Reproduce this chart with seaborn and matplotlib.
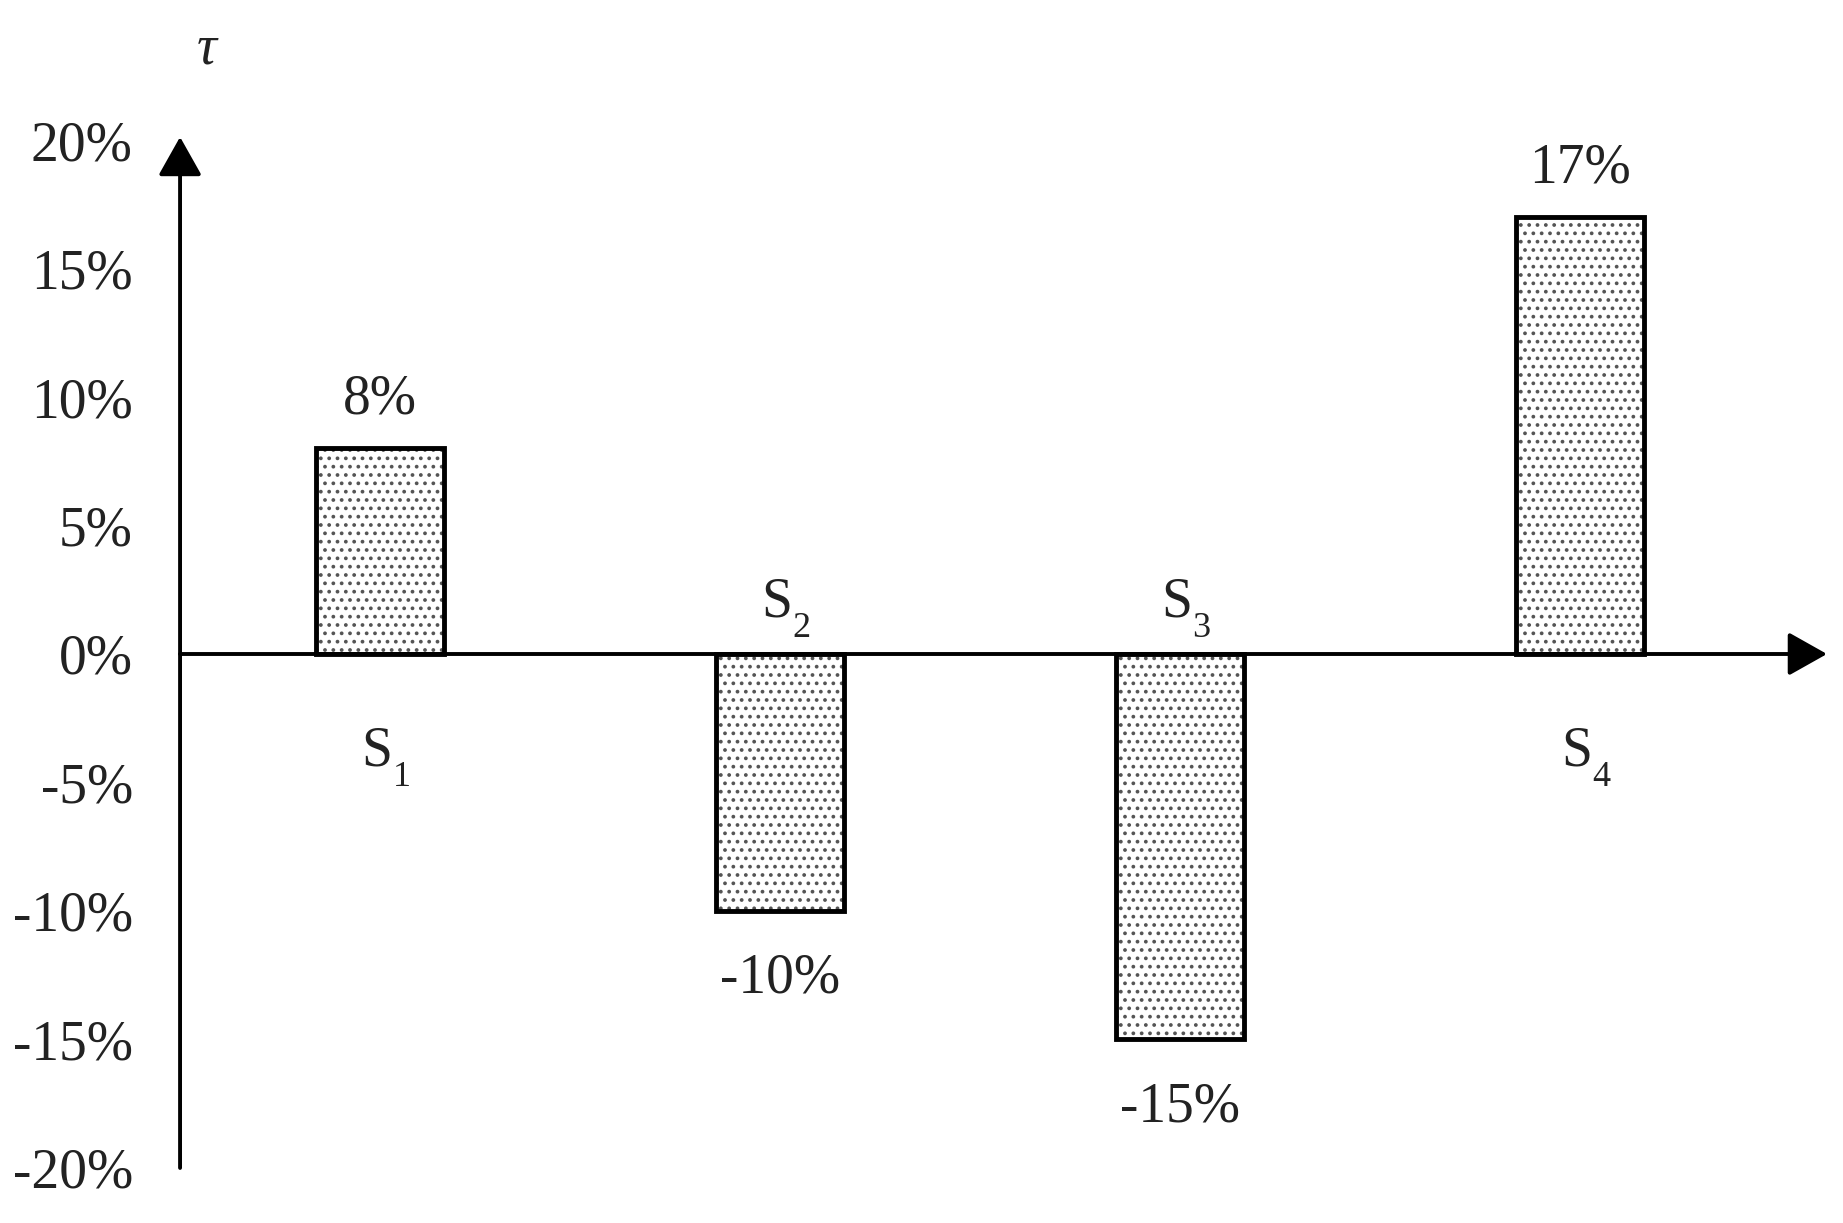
import matplotlib
matplotlib.use('Agg')
import matplotlib.pyplot as plt
import seaborn as sns
import pandas as pd
from matplotlib.colors import to_rgba

# data
categories = ['S1', 'S2', 'S3', 'S4']
cat_main = ['S', 'S', 'S', 'S']
cat_sub = ['1', '2', '3', '4']
values = [8, -10, -15, 17]
value_labels = ['8%', '-10%', '-15%', '17%']
yticks = [-20, -15, -10, -5, 0, 5, 10, 15, 20]
ytick_labels = ['-20%', '-15%', '-10%', '-5%', '0%', '5%', '10%', '15%', '20%']

df = pd.DataFrame({'cat': categories, 'val': values})

sns.set_style('white')
plt.rcParams['font.family'] = ['Liberation Serif', 'DejaVu Serif']
plt.rcParams['hatch.linewidth'] = 1.5

fig = plt.figure(figsize=(18.43, 12.23), dpi=100)
ax = fig.add_axes([0.0977, 0.045, 0.8936, 0.8405])

sns.barplot(data=df, x='cat', y='val', ax=ax, width=0.32, color='white',
            edgecolor='black', linewidth=3.5, hatch='..', saturation=1)

for p in ax.patches:
    if hasattr(p, 'set_hatchcolor'):
        p.set_hatchcolor('#555555')
    else:
        p._hatch_color = to_rgba('#555555')

ax.set_xlim(-0.5, 3.6175)
ax.set_ylim(-20, 20)
for s in ax.spines.values():
    s.set_visible(False)
ax.set_xticks([])
ax.set_yticks(yticks)
ax.set_yticklabels(ytick_labels, fontsize=40, color='#222222')
ax.tick_params(axis='y', length=0, pad=34)
ax.set_xlabel('')
ax.set_ylabel('')

# axes with arrows
arrow = dict(arrowstyle='-|>,head_length=0.48,head_width=0.27', lw=2.8,
             color='black', mutation_scale=50, shrinkA=0, shrinkB=0)
ax.annotate('', xy=(0, 1.003), xytext=(0, 0), xycoords='axes fraction',
            arrowprops=arrow, annotation_clip=False)
ax.annotate('', xy=(1, 0), xytext=(0, 0), xycoords=('axes fraction', 'data'),
            arrowprops=arrow, annotation_clip=False)

# labels
txt = dict(textcoords='offset points', va='baseline', color='#222222')
for i, (v, vl, cm, cs) in enumerate(zip(values, value_labels, cat_main, cat_sub)):
    if v >= 0:
        ax.annotate(vl, xy=(i, v), xytext=(0, 25), ha='center', fontsize=40, **txt)
        base = -80
    else:
        ax.annotate(vl, xy=(i, v), xytext=(0, -59), ha='center', fontsize=40, **txt)
        base = 27
    ax.annotate(cm, xy=(i, 0), xytext=(9, base), ha='right', fontsize=40, **txt)
    ax.annotate(cs, xy=(i, 0), xytext=(9, base - 15), ha='left', fontsize=26, **txt)

fig.text(207 / 1843, 1 - 49 / 1223, 'τ', fontsize=40, style='italic',
         ha='center', va='center', color='#222222')

fig.savefig('out.png', dpi=100)
